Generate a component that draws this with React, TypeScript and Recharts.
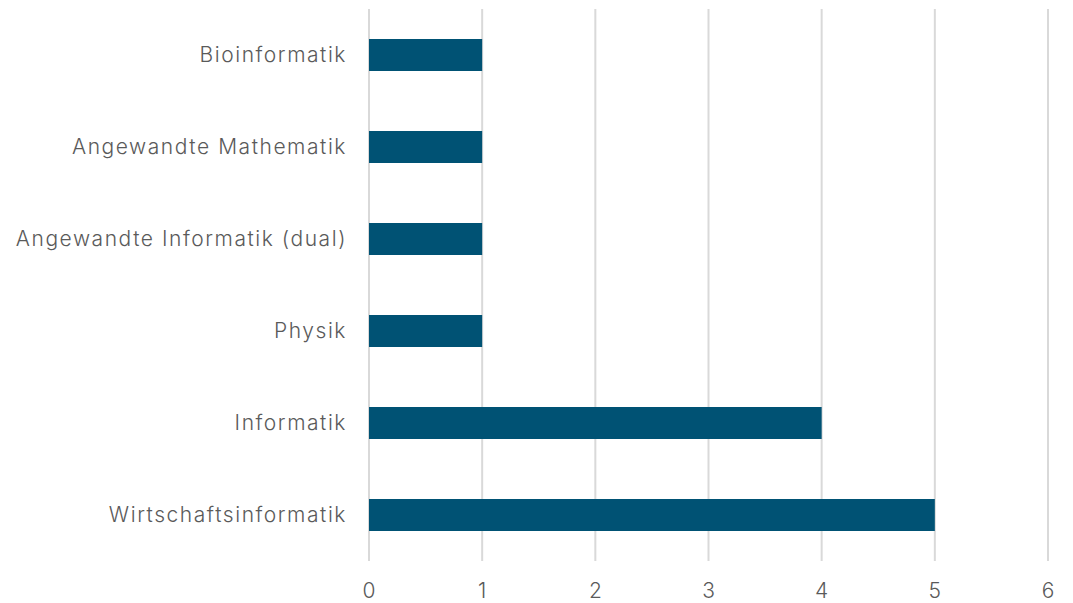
import { BarChart, Bar, XAxis, YAxis, CartesianGrid } from "recharts";

const programs = [
  "Bioinformatik",
  "Angewandte Mathematik",
  "Angewandte Informatik (dual)",
  "Physik",
  "Informatik",
  "Wirtschaftsinformatik",
];
const counts = [1, 1, 1, 1, 4, 5];
const xTicks = [0, 1, 2, 3, 4, 5, 6];

const data = programs.map((name, i) => ({ name, value: counts[i] }));

const FONT = "Inter, 'Noto Sans', sans-serif";
const TEXT = "#5a5a5a";

export default function App() {
  return (
    <div style={{ position: "absolute", left: 0, top: 0, background: "#fff" }}>
      <BarChart
        width={1073}
        height={603}
        data={data}
        layout="vertical"
        margin={{ top: 9, right: 25, bottom: 0, left: 0 }}
      >
        <CartesianGrid horizontal={false} stroke="#d9d9d9" strokeWidth={2} />
        <XAxis
          type="number"
          domain={[0, 6]}
          ticks={xTicks}
          axisLine={false}
          tickLine={false}
          height={42}
          tickMargin={16}
          tick={{ fill: TEXT, fontSize: 21, fontFamily: FONT, fontWeight: 300 }}
        />
        <YAxis
          type="category"
          dataKey="name"
          width={369}
          axisLine={false}
          tickLine={false}
          tickMargin={16}
          tick={{
            fill: TEXT,
            fontSize: 21,
            fontFamily: FONT,
            fontWeight: 300,
            letterSpacing: 1.55,
          }}
        />
        <Bar dataKey="value" fill="#005274" barSize={32} isAnimationActive={false} />
      </BarChart>
    </div>
  );
}
